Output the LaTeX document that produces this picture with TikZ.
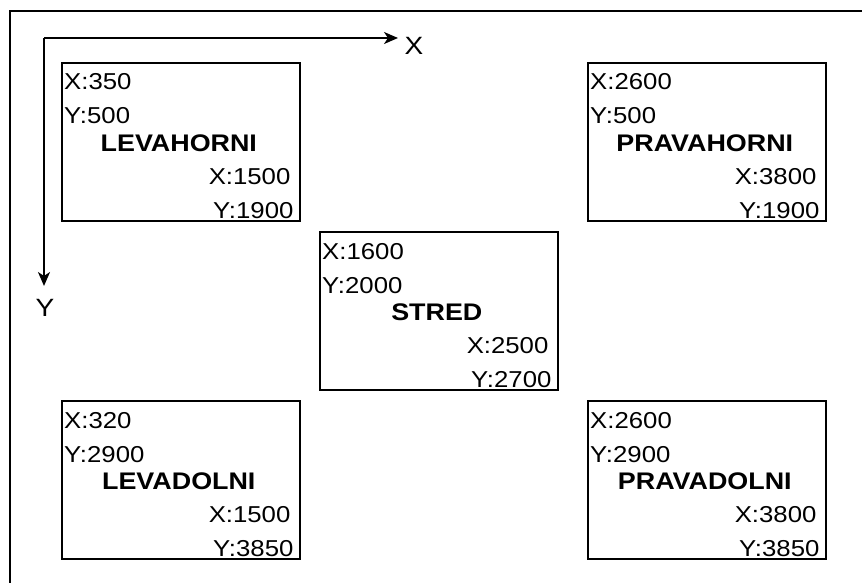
\documentclass[tikz,border=0pt]{standalone}
\usepackage{fontspec}
\setmainfont{Liberation Sans}[FakeStretch=1.12]
\usetikzlibrary{arrows.meta}
\newcommand\cbox[7]{%
  \node[box] (#1) at (#2) {};
  \node[lbl, anchor=base west] (#1-a) at ([shift={(3,28)}]#1.north west) {X:#3};
  \node[lbl, anchor=base west] (#1-b) at ([shift={(3,62)}]#1.north west) {Y:#4};
  \node[ttl, anchor=base] (#1-t) at ([shift={(-2,89)}]#1.north) {#5};
  \node[lbl, anchor=base east] (#1-c) at ([shift={(-10,122)}]#1.north east) {X:#6};
  \node[lbl, anchor=base east] (#1-d) at ([shift={(-7,156)}]#1.north east) {Y:#7};
}
\begin{document}
\begin{tikzpicture}[x=1pt,y=-1pt,
  box/.style={draw, line width=1.6pt, minimum width=238pt, minimum height=158pt, inner sep=0pt, anchor=north west},
  lbl/.style={font=\fontsize{23}{27}\selectfont, inner sep=0pt},
  ttl/.style={font=\fontsize{24}{28}\selectfont\bfseries, inner sep=0pt},
  axlbl/.style={font=\fontsize{25}{30}\selectfont, inner sep=0pt},
  axisline/.style={line width=2pt, -{Stealth[length=14pt,width=12pt,inset=4pt]}},
  frame/.style={line width=2pt}
]
\useasboundingbox (0,0) rectangle (862,583);
\coordinate (fbl) at (10,583);
\coordinate (fc) at (10,11);
\coordinate (ftr) at (862,11);
\draw[frame] (fbl) -- (fc) -- (ftr);

\coordinate (o) at (44,38);
\coordinate (xe) at (398,38);
\coordinate (ye) at (44,286);
\draw[axisline] (o) -- (xe);
\draw[axisline] (o) -- (ye);
\node[axlbl] (xl) at (414,46) {X};
\node[axlbl] (yl) at (45,308) {Y};

\cbox{lh}{61,62}{350}{500}{LEVAHORNI}{1500}{1900}
\cbox{ph}{587,62}{2600}{500}{PRAVAHORNI}{3800}{1900}
\cbox{st}{319,231}{1600}{2000}{STRED}{2500}{2700}
\cbox{ld}{61,400}{320}{2900}{LEVADOLNI}{1500}{3850}
\cbox{pd}{587,400}{2600}{2900}{PRAVADOLNI}{3800}{3850}
\end{tikzpicture}
\end{document}
